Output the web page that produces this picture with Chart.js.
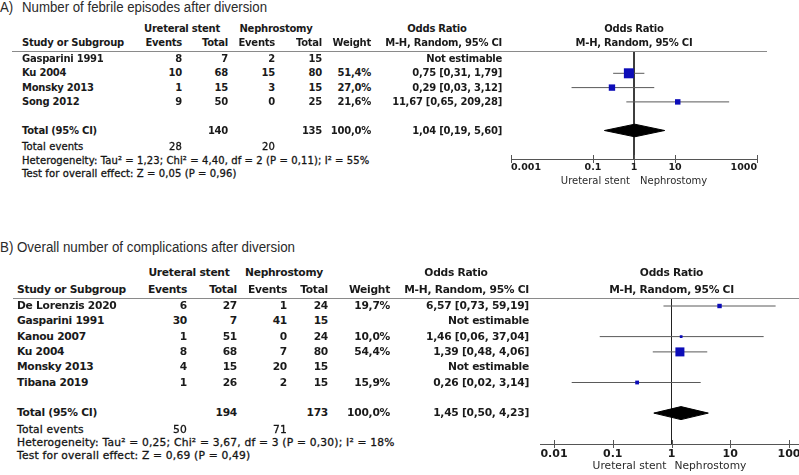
<!DOCTYPE html>
<html><head><meta charset="utf-8">
<script src="https://cdn.jsdelivr.net/npm/chart.js@4"></script>
<style>
html,body{margin:0;padding:0;background:#fff;}
#root{position:relative;width:799px;height:475px;overflow:hidden;background:#fff;}
.t{position:absolute;white-space:nowrap;color:#1a1a1a;}
.hl{position:absolute;height:1px;background:#8a8a8a;}
canvas{position:absolute;}
</style></head><body><div id="root"></div>
<script>
// ---------- Panel A data ----------
const aStudies     = ['Gasparini 1991', 'Ku 2004', 'Monsky 2013', 'Song 2012'];
const aStentEvents = [8, 10, 1, 9];
const aStentTotal  = [7, 68, 15, 50];
const aNephEvents  = [2, 15, 3, 0];
const aNephTotal   = [15, 80, 15, 25];
const aWeight      = [null, 51.4, 27.0, 21.6];
const aOR          = [null, 0.75, 0.29, 11.67];
const aLow         = [null, 0.31, 0.03, 0.65];
const aHigh        = [null, 1.79, 3.12, 209.28];
const aPooled      = [1.04, 0.19, 5.60];   // estimate, lower, upper
const aTotals      = [140, 135];
const aTotalEvents = [28, 20];
const aHet  = 'Heterogeneity: Tau² = 1,23; Chi² = 4,40, df = 2 (P = 0,11); I² = 55%';
const aTest = 'Test for overall effect: Z = 0,05 (P = 0,96)';
const aTicks      = [0.001, 0.1, 1, 10, 1000];
const aTickLabels = ['0.001', '0.1', '1', '10', '1000'];

// ---------- Panel B data ----------
const bStudies     = ['De Lorenzis 2020', 'Gasparini 1991', 'Kanou 2007', 'Ku 2004', 'Monsky 2013', 'Tibana 2019'];
const bStentEvents = [6, 30, 1, 8, 4, 1];
const bStentTotal  = [27, 7, 51, 68, 15, 26];
const bNephEvents  = [1, 41, 0, 7, 20, 2];
const bNephTotal   = [24, 15, 24, 80, 15, 15];
const bWeight      = [19.7, null, 10.0, 54.4, null, 15.9];
const bOR          = [6.57, null, 1.46, 1.39, null, 0.26];
const bLow         = [0.73, null, 0.06, 0.48, null, 0.02];
const bHigh        = [59.19, null, 37.04, 4.06, null, 3.14];
const bPooled      = [1.45, 0.50, 4.23];
const bTotals      = [194, 173];
const bTotalEvents = [50, 71];
const bHet  = 'Heterogeneity: Tau² = 0,25; Chi² = 3,67, df = 3 (P = 0,30); I² = 18%';
const bTest = 'Test for overall effect: Z = 0,69 (P = 0,49)';
const bTicks      = [0.01, 0.1, 1, 10, 100];
const bTickLabels = ['0.01', '0.1', '1', '10', '100'];

// ---------- layout (positions / styles only) ----------
const TBL = '"DejaVu Sans", Verdana, sans-serif';
const TTL = '"Liberation Sans", Arial, sans-serif';
const AXIS_H = 20;
const layoutA = {
  tag:'A)', title:'Number of febrile episodes after diversion', titleX:22, titleY:7, titleW:245,
  fs:10, ls:-0.25, rls:0.1, hdr1Y:29, hdr2Y:43, lineY:51, lineX0:12, lineX1:767,
  nameX:22, cols:[182,228,275,322,371,502], grp:[182,276], orHdrX:437,
  row0Y:59, pitch:14.3, totalIdx:5, totEvY:147, hetY:161, testY:174,
  cv:{left:480, top:0, w:319, h:230}, chartL:511, chartR:757, axisY:159,
  xMin:0.001, xMax:1000, sqBase:10, diaH:6.3,
  tickFs:9.5, tickDy:8.5, sideFs:10, sideDy:22.5, sideGap:[4,6]
};
const layoutB = {
  tag:'B)', title:'Overall number of complications after diversion', titleX:17, titleY:247, titleW:278,
  fs:10.7, ls:-0.27, rls:0.2, hdr1Y:273, hdr2Y:290, lineY:298, lineX0:13, lineX1:799,
  nameX:17, cols:[187,237,287,328,390,529], grp:[189,284], orHdrX:456,
  row0Y:306, pitch:15.3, totalIdx:7, totEvY:430, hetY:443, testY:456,
  cv:{left:480, top:230, w:350, h:245}, chartL:540, chartR:820, axisY:444,
  xMin:0.005776, xMax:337, sqBase:9, diaH:6.5,
  tickFs:11, tickDy:10, sideFs:10.7, sideDy:22.5, sideGap:[5,3]
};

const root = document.getElementById('root');
function put(text, x, y, align, font, ls, color, stroke) {
  const el = document.createElement('div');
  el.className = 't';
  el.textContent = text;
  el.style.font = font;
  el.style.lineHeight = '1';
  if (ls) el.style.letterSpacing = ls + 'px';
  if (color) el.style.color = color;
  if (stroke) el.style.webkitTextStroke = stroke + 'px #1a1a1a';
  el.style.left = x + 'px';
  el.style.top = y + 'px';
  const tx = align === 'right' ? '-100%' : align === 'center' ? '-50%' : '0';
  el.style.transform = 'translate(' + tx + ',-50%)';
  root.appendChild(el);
  return el;
}
function putTitle(text, x, y, scale) {
  const el = put(text, x, y, 'left', '14px ' + TTL, 0, '#2a2a2a');
  el.style.transformOrigin = '0 50%';
  el.style.transform = 'translate(0,-50%) scaleX(' + scale + ')';
  return el;
}
const f2 = v => v.toFixed(2).replace('.', ',');
const f1 = v => v.toFixed(1).replace('.', ',') + '%';

function buildPanel(L, d) {
  const canvas = document.createElement('canvas');
  canvas.width = L.cv.w; canvas.height = L.cv.h;
  canvas.style.left = L.cv.left + 'px'; canvas.style.top = L.cv.top + 'px';
  root.appendChild(canvas);

  const yMin = (L.lineY - L.row0Y) / L.pitch;
  const yMax = (L.axisY - L.row0Y) / L.pitch;
  const maxW = Math.max(...d.w.filter(v => v != null));

  const datasets = [];
  const pts = [], radii = [];
  d.or.forEach((v, i) => {
    if (v != null) {
      pts.push({x: v, y: i});
      const side = L.sqBase * Math.pow(d.w[i] / maxW, 0.7);
      radii.push(side / Math.SQRT2);
    }
  });
  datasets.push({data: pts, pointStyle: 'rect', pointRadius: radii, backgroundColor: '#0c0cb8',
                 borderColor: '#0c0cb8', borderWidth: 0, order: 0});
  d.or.forEach((v, i) => {
    if (v != null) datasets.push({data: [{x: d.lo[i], y: i}, {x: d.hi[i], y: i}], showLine: true,
      borderColor: '#5a5a5a', borderWidth: 1, pointRadius: 0, order: 2});
  });
  datasets.push({data: [{x: 1, y: yMin}, {x: 1, y: yMax}], showLine: true, borderColor: '#222',
                 borderWidth: 1, pointRadius: 0, order: 3});
  const T = L.totalIdx, h = L.diaH / L.pitch;
  const [pe, plo, phi] = d.pooled;
  datasets.push({data: [{x: plo, y: T}, {x: pe, y: T - h}, {x: phi, y: T}, {x: pe, y: T + h}, {x: plo, y: T}],
    showLine: true, fill: 'shape', backgroundColor: '#000', borderColor: '#000', borderWidth: 1,
    pointRadius: 0, tension: 0, order: 1});

  const axisPlugin = {
    id: 'forestAxis',
    afterDraw(chart) {
      const xs = chart.scales.x, ctx = chart.ctx, ca = chart.chartArea, y0 = ca.bottom;
      ctx.save();
      ctx.strokeStyle = '#555'; ctx.lineWidth = 1;
      xs.ticks.forEach(t => {
        const px = Math.round(xs.getPixelForValue(t.value)) + 0.5;
        ctx.beginPath(); ctx.moveTo(px, y0 - 4); ctx.lineTo(px, y0 + 4); ctx.stroke();
      });
      ctx.fillStyle = '#1a1a1a'; ctx.textBaseline = 'middle'; ctx.textAlign = 'center';
      ctx.font = 'bold ' + L.tickFs + 'px ' + TBL;
      xs.ticks.forEach((t, i) => {
        const lab = d.tickLabels[i];
        const w = ctx.measureText(lab).width;
        let cx = xs.getPixelForValue(t.value);
        cx = Math.max(ca.left + w / 2, Math.min(ca.right - w / 2, cx));
        ctx.fillText(lab, cx, y0 + L.tickDy);
      });
      const x1 = xs.getPixelForValue(1);
      ctx.font = L.sideFs + 'px ' + TBL;
      ctx.fillStyle = '#2a2a2a';
      ctx.textAlign = 'right'; ctx.fillText('Ureteral stent', x1 - L.sideGap[0], y0 + L.sideDy);
      ctx.textAlign = 'left'; ctx.fillText('Nephrostomy', x1 + L.sideGap[1], y0 + L.sideDy);
      ctx.restore();
    }
  };

  const chart = new Chart(canvas, {
    type: 'scatter',
    data: {datasets},
    options: {
      responsive: false, animation: false, devicePixelRatio: 1, events: [],
      layout: {padding: {left: L.chartL - L.cv.left, right: L.cv.left + L.cv.w - L.chartR,
                         top: L.lineY - L.cv.top, bottom: L.cv.top + L.cv.h - L.axisY - AXIS_H}},
      plugins: {legend: {display: false}, tooltip: {enabled: false}},
      scales: {
        x: {type: 'logarithmic', position: 'bottom', min: L.xMin, max: L.xMax, bounds: 'data',
            afterBuildTicks: s => { s.ticks = d.ticks.map(v => ({value: v})); },
            afterFit: s => { s.height = AXIS_H; },
            ticks: {display: false}, grid: {display: false},
            border: {display: true, color: '#555', width: 1}},
        y: {type: 'linear', display: false, reverse: true, min: yMin, max: yMax}
      }
    },
    plugins: [axisPlugin]
  });

  // ---- titles ----
  const titleEl = putTitle(L.title, L.titleX, L.titleY, 1);
  const s = L.titleW / titleEl.getBoundingClientRect().width;
  titleEl.style.transform = 'translate(0,-50%) scaleX(' + s + ')';
  putTitle(L.tag, 0, L.titleY, s);

  // ---- table text ----
  const B = 'bold ' + L.fs + 'px ' + TBL;
  const R = L.fs + 'px ' + TBL;
  const rowY = i => L.cv.top + chart.scales.y.getPixelForValue(i);
  const fx = L.cv.left + chart.scales.x.getPixelForValue(1);
  put('Ureteral stent', L.grp[0], L.hdr1Y, 'center', B, L.ls);
  put('Nephrostomy', L.grp[1], L.hdr1Y, 'center', B, L.ls);
  put('Odds Ratio', L.orHdrX, L.hdr1Y, 'center', B, L.ls);
  put('Odds Ratio', fx, L.hdr1Y, 'center', B, L.ls);
  put('Study or Subgroup', L.nameX, L.hdr2Y, 'left', B, L.ls);
  ['Events', 'Total', 'Events', 'Total', 'Weight', 'M-H, Random, 95% CI'].forEach((s, k) =>
    put(s, L.cols[k], L.hdr2Y, 'right', B, L.ls));
  put('M-H, Random, 95% CI', fx, L.hdr2Y, 'center', B, L.ls);
  const line = document.createElement('div');
  line.className = 'hl';
  line.style.left = L.lineX0 + 'px'; line.style.width = (L.lineX1 - L.lineX0) + 'px';
  line.style.top = L.lineY + 'px';
  root.appendChild(line);

  d.studies.forEach((s, i) => {
    const y = rowY(i);
    put(s, L.nameX, y, 'left', B, L.ls);
    put(String(d.se[i]), L.cols[0], y, 'right', B, L.ls);
    put(String(d.st[i]), L.cols[1], y, 'right', B, L.ls);
    put(String(d.ne[i]), L.cols[2], y, 'right', B, L.ls);
    put(String(d.nt[i]), L.cols[3], y, 'right', B, L.ls);
    if (d.w[i] != null) put(f1(d.w[i]), L.cols[4], y, 'right', B, L.ls);
    put(d.or[i] != null ? f2(d.or[i]) + ' [' + f2(d.lo[i]) + ', ' + f2(d.hi[i]) + ']' : 'Not estimable',
        L.cols[5], y, 'right', B, L.ls);
  });
  const ty = rowY(L.totalIdx);
  put('Total (95% CI)', L.nameX, ty, 'left', B, L.ls);
  put(String(d.totals[0]), L.cols[1], ty, 'right', B, L.ls);
  put(String(d.totals[1]), L.cols[3], ty, 'right', B, L.ls);
  put(f1(100), L.cols[4], ty, 'right', B, L.ls);
  put(f2(d.pooled[0]) + ' [' + f2(d.pooled[1]) + ', ' + f2(d.pooled[2]) + ']', L.cols[5], ty, 'right', B, L.ls);
  const st = 0.3;
  put('Total events', L.nameX, L.totEvY, 'left', R, L.rls, '#111', st);
  put(String(d.totEv[0]), L.cols[0], L.totEvY, 'right', R, L.rls, '#111', st);
  put(String(d.totEv[1]), L.cols[2], L.totEvY, 'right', R, L.rls, '#111', st);
  put(d.het, L.nameX, L.hetY, 'left', R, L.rls, '#111', st);
  put(d.test, L.nameX, L.testY, 'left', R, L.rls, '#111', st);
}

buildPanel(layoutA, {studies: aStudies, se: aStentEvents, st: aStentTotal, ne: aNephEvents, nt: aNephTotal,
  w: aWeight, or: aOR, lo: aLow, hi: aHigh, pooled: aPooled, totals: aTotals, totEv: aTotalEvents,
  het: aHet, test: aTest, ticks: aTicks, tickLabels: aTickLabels});
buildPanel(layoutB, {studies: bStudies, se: bStentEvents, st: bStentTotal, ne: bNephEvents, nt: bNephTotal,
  w: bWeight, or: bOR, lo: bLow, hi: bHigh, pooled: bPooled, totals: bTotals, totEv: bTotalEvents,
  het: bHet, test: bTest, ticks: bTicks, tickLabels: bTickLabels});
</script></body></html>
